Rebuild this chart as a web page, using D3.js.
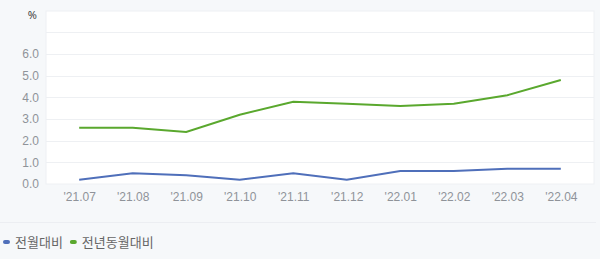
<!DOCTYPE html>
<html>
<head>
<meta charset="utf-8">
<script src="https://cdn.jsdelivr.net/npm/d3@7"></script>
<style>
  html, body { margin: 0; padding: 0; background: #f6f8fa; }
  svg { display: block; font-family: "Noto Sans", "Noto Sans CJK KR", sans-serif; }
</style>
</head>
<body>
<script>
const months = ["'21.07", "'21.08", "'21.09", "'21.10", "'21.11", "'21.12", "'22.01", "'22.02", "'22.03", "'22.04"]
const momValues = [0.2, 0.5, 0.4, 0.2, 0.5, 0.2, 0.6, 0.6, 0.7, 0.7]
const yoyValues = [2.6, 2.6, 2.4, 3.2, 3.8, 3.7, 3.6, 3.7, 4.1, 4.8]
const yTicks = [0, 1, 2, 3, 4, 5, 6]
const gridTicks = [1, 2, 3, 4, 5, 6, 7]

const series = [
  { name: '전월대비', values: momValues, color: '#4f6fba' },
  { name: '전년동월대비', values: yoyValues, color: '#5aa82e' },
]

const width = 600, height = 259
const plot = { left: 46, right: 594, top: 11, bottom: 184 }

const svg = d3.select('body').append('svg')
  .attr('width', width)
  .attr('height', height)

const x = d3.scalePoint()
  .domain(months)
  .range([plot.left, plot.right])
  .padding(0.62)

const y = d3.scaleLinear()
  .domain([0, 8])
  .range([plot.bottom, plot.top - 0.3])

// plot panel
svg.append('rect')
  .attr('x', plot.left)
  .attr('y', plot.top)
  .attr('width', plot.right - plot.left)
  .attr('height', plot.bottom - plot.top)
  .attr('fill', '#fff')
  .attr('stroke', '#eef0f3')

// gridlines
svg.append('g')
  .selectAll('line')
  .data(gridTicks)
  .join('line')
  .attr('x1', plot.left)
  .attr('x2', plot.right)
  .attr('y1', d => Math.round(y(d)) + 0.5)
  .attr('y2', d => Math.round(y(d)) + 0.5)
  .attr('stroke', '#eef0f3')

// y axis labels
const yAxis = svg.append('g')
  .attr('transform', `translate(${plot.left - 7},0)`)
  .call(d3.axisLeft(y).tickValues(yTicks).tickFormat(d3.format('.1f')).tickSize(0).tickPadding(0))
yAxis.select('.domain').remove()
yAxis.selectAll('text')
  .attr('fill', '#8f9399')
  .attr('font-size', 12)

svg.append('text')
  .attr('x', 37)
  .attr('y', 19)
  .attr('text-anchor', 'end')
  .attr('fill', '#444')
  .attr('font-size', 11)
  .text('%')

// x axis labels
const xAxis = svg.append('g')
  .attr('transform', `translate(0,${plot.bottom + 8})`)
  .call(d3.axisBottom(x).tickSize(0).tickPadding(0))
xAxis.select('.domain').remove()
xAxis.selectAll('text')
  .attr('fill', '#8f9399')
  .attr('font-size', 12)

// lines
const line = d3.line()
  .x((d, i) => x(months[i]))
  .y(d => y(d))

svg.append('g')
  .selectAll('path')
  .data(series)
  .join('path')
  .attr('d', d => line(d.values))
  .attr('fill', 'none')
  .attr('stroke', d => d.color)
  .attr('stroke-width', 2)

// separator
svg.append('line')
  .attr('x1', 0)
  .attr('x2', 596)
  .attr('y1', 222.5)
  .attr('y2', 222.5)
  .attr('stroke', '#eceef2')

// legend
const legend = svg.append('g')
  .attr('transform', 'translate(3,242)')

let offset = 0
series.forEach(s => {
  const item = legend.append('g').attr('transform', `translate(${offset},0)`)
  item.append('rect')
    .attr('x', 0)
    .attr('y', -2)
    .attr('width', 7)
    .attr('height', 4)
    .attr('rx', 2)
    .attr('fill', s.color)
  const t = item.append('text')
    .attr('x', 12)
    .attr('y', 5)
    .attr('fill', '#666')
    .attr('font-size', 13)
    .text(s.name)
  offset += 12 + t.node().getComputedTextLength() + 7
})
</script>
</body>
</html>
